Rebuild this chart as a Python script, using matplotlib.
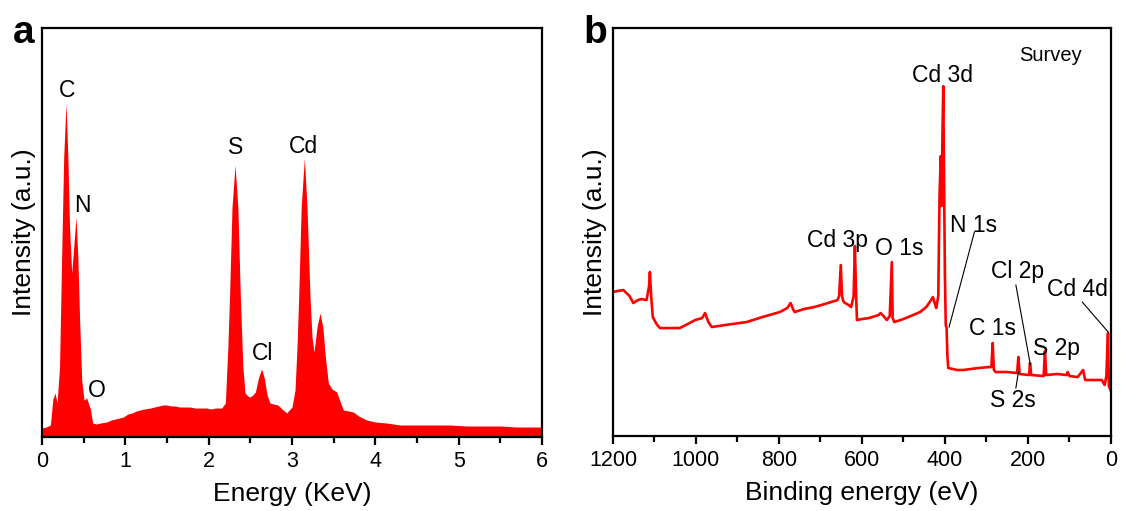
import numpy as np
import matplotlib
matplotlib.use("Agg")
import matplotlib.pyplot as plt

RED = "#FF0000"

# (a) EDS spectrum, energy in keV and intensity in arbitrary units
eds_energy = [0.00, 0.05, 0.10, 0.13, 0.156, 0.18, 0.21, 0.24, 0.26, 0.288, 0.31,
              0.33, 0.356, 0.38, 0.408, 0.43, 0.45, 0.476, 0.504, 0.536, 0.56,
              0.58, 0.608, 0.65, 0.70, 0.776, 0.83, 0.88, 0.93, 0.976, 1.03,
              1.08, 1.13, 1.176, 1.23, 1.30, 1.35, 1.40, 1.45, 1.496, 1.55,
              1.60, 1.65, 1.70, 1.776, 1.84, 1.90, 1.976, 2.03, 2.08, 2.156,
              2.20, 2.23, 2.25, 2.28, 2.316, 2.35, 2.38, 2.41, 2.436, 2.47,
              2.496, 2.53, 2.56, 2.60, 2.636, 2.67, 2.70, 2.736, 2.78, 2.83,
              2.88, 2.936, 3.00, 3.036, 3.06, 3.08, 3.11, 3.148, 3.18, 3.216,
              3.24, 3.264, 3.30, 3.336, 3.37, 3.40, 3.436, 3.48, 3.536, 3.58,
              3.616, 3.68, 3.736, 3.80, 3.896, 4.00, 4.136, 4.30, 4.50, 4.70,
              4.90, 5.10, 5.30, 5.50, 5.70, 5.90, 6.00]
eds_counts = [9, 10, 12, 38, 44, 34, 70, 200, 280, 334, 280,
              210, 164, 190, 220, 180, 120, 57, 37, 39, 33,
              28, 14, 13, 14, 15, 17, 18, 19, 20, 23,
              24, 26, 27, 28, 29, 30, 31, 32, 32, 31,
              31, 30, 30, 30, 29, 29, 29, 28, 29, 29,
              34, 90, 140, 230, 272, 230, 140, 70, 44, 41,
              40, 42, 45, 60, 68, 58, 42, 34, 33, 32,
              28, 24, 30, 47, 90, 140, 230, 279, 230, 140,
              100, 85, 110, 124, 110, 80, 54, 48, 45, 35,
              27, 26, 25, 21, 17, 15, 14, 12, 12, 12,
              12, 11, 11, 11, 10, 10, 10]
eds_labels = ["C", "N", "O", "S", "Cl", "Cd"]
eds_label_x = [0.296, 0.488, 0.656, 2.328, 2.652, 3.132]
eds_label_y = [347, 232, 47, 290, 84, 291]

# (b) XPS survey, binding energy in eV and intensity in arbitrary units
xps_be = [1200, 1190, 1175, 1160, 1151, 1140, 1131, 1119, 1113, 1111, 1108,
          1104, 1095, 1087, 1060, 1039, 1020, 1002, 985, 978, 970, 962, 930,
          878, 840, 798, 780, 772, 765, 762, 740, 715, 690, 659, 655, 651,
          648, 644, 632, 626, 620, 617, 614, 612, 600, 583, 560, 555, 548,
          540, 533, 528, 526, 522, 500, 477, 460, 445, 435, 429, 424, 421,
          416, 413, 410, 408, 406, 404, 402, 400, 398, 396, 394, 392, 370,
          356, 320, 292, 288, 285, 282, 278, 251, 226, 223, 220, 197, 195,
          192, 162, 159, 156, 130, 107, 104, 100, 80, 67, 62, 40, 22, 15,
          11, 7, 5, 1, 0]
xps_counts = [144, 145, 146, 140, 133, 136, 137, 136, 150, 164, 140,
              119, 112, 108, 108, 108, 112, 116, 118, 123, 114, 109, 111,
              114, 119, 124, 128, 133, 126, 124, 127, 129, 132, 136, 140, 171,
              140, 134, 131, 129, 140, 190, 140, 116, 117, 118, 121, 123, 120,
              116, 120, 174, 118, 114, 117, 121, 124, 129, 135, 139, 132, 128,
              140, 240, 280, 230, 300, 350, 250, 160, 111, 108, 80, 68, 66,
              66, 68, 69, 69, 93, 66, 64, 64, 63, 79, 62, 61, 73,
              61, 60, 85, 61, 62, 61, 64, 60, 59, 66, 56, 56, 56, 51,
              60, 103, 50, 46, 45]
xps_labels = ["Cd 3d", "Cd 3p", "O 1s", "N 1s", "Cl 2p", "Cd 4d", "C 1s", "S 2p", "S 2s"]
xps_label_x = [406, 658, 511, 330, 225, 81, 286, 131, 237]
xps_label_y = [361, 196, 188, 211, 165, 147, 108, 88, 36]
# leader lines: (label end BE, label end I, peak BE, peak I)
xps_leaders = [(329, 204, 390, 109), (229, 151, 194, 71),
               (69, 134, 6.5, 104), (229, 48, 223, 64)]

plt.rcParams["font.family"] = ["Liberation Sans", "DejaVu Sans"]
plt.rcParams["axes.linewidth"] = 1.6

fig = plt.figure(figsize=(11.21, 5.11), dpi=100)
ax_a = fig.add_axes([0.0375, 0.1448, 0.446, 0.800])
ax_b = fig.add_axes([0.5468, 0.1468, 0.4442, 0.798])

for ax in (ax_a, ax_b):
    ax.tick_params(axis="x", which="major", direction="out", length=6, width=1.6,
                   labelsize=15.5, pad=4, top=False)
    ax.tick_params(axis="x", which="minor", direction="out", length=4, width=1.6,
                   top=False)
    ax.set_yticks([])
    ax.set_ylabel("Intensity (a.u.)", fontsize=19, labelpad=4)

ax_a.fill_between(eds_energy, 0, eds_counts, color=RED, lw=0)
ax_a.set_xlim(0, 6)
ax_a.set_ylim(0, 409)
ax_a.set_xticks(np.arange(0, 7, 1))
ax_a.set_xticks(np.arange(0.5, 6, 1), minor=True)
ax_a.set_xlabel("Energy (KeV)", fontsize=19, labelpad=7)
for lab, x, y in zip(eds_labels, eds_label_x, eds_label_y):
    ax_a.text(x, y, lab, fontsize=16.5, ha="center", va="center")

ax_b.plot(xps_be, xps_counts, color=RED, lw=1.9)
ax_b.set_xlim(1200, 0)
ax_b.set_ylim(0, 408)
ax_b.set_xticks(np.arange(0, 1201, 200))
ax_b.set_xticks(np.arange(100, 1200, 200), minor=True)
ax_b.set_xlabel("Binding energy (eV)", fontsize=19, labelpad=7)
for lab, x, y in zip(xps_labels, xps_label_x, xps_label_y):
    ax_b.text(x, y, lab, fontsize=16.5, ha="center", va="center")
for x0, y0, x1, y1 in xps_leaders:
    ax_b.plot([x0, x1], [y0, y1], color="black", lw=0.8)
ax_b.text(145, 381, "Survey", fontsize=14.5, ha="center", va="center")

fig.text(0.0116, 0.9159, "a", fontsize=28, fontweight="bold", ha="left", va="baseline")
fig.text(0.520, 0.9159, "b", fontsize=28, fontweight="bold", ha="left", va="baseline")

fig.savefig("out.png", dpi=100)
